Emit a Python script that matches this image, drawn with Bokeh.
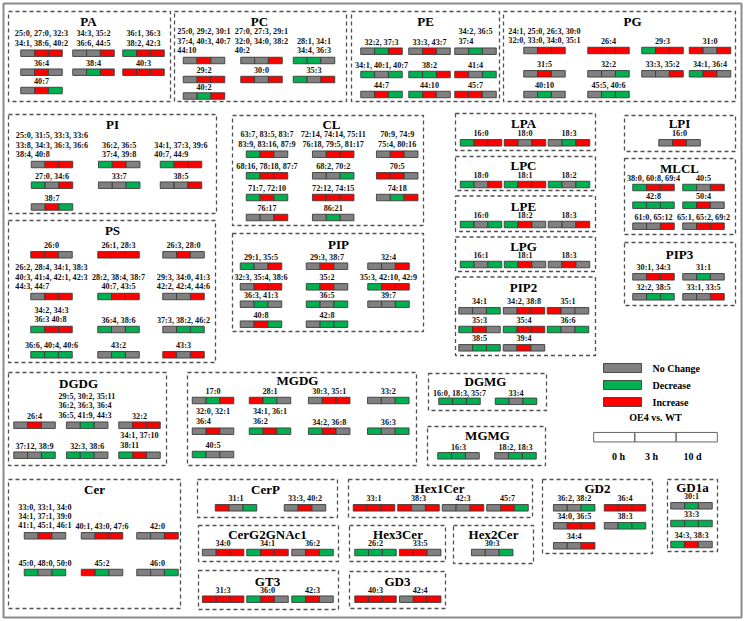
from bokeh.plotting import figure
from bokeh.models import Range1d, ColumnDataSource
from bokeh.core.properties import value
from bokeh.embed import file_html
from bokeh.resources import INLINE

# ---------------- data: lipid species and change at 0 h / 3 h / 10 d ----------------
# N = No Change, D = Decrease, I = Increase
PA_lipids = ["25:0, 27:0, 32:3\n34:1, 38:6, 40:2", "34:3, 35:2\n36:6, 44:5", "36:1, 36:3\n38:2, 42:3", "36:4", "38:4", "40:3", "40:7"]
PA_states = ["NII", "NNI", "DII", "NIN", "NDI", "III", "NID"]
PC_lipids = ["25:0, 29:2, 30:1\n37:4, 40:3, 40:7\n44:10", "27:0, 27:3, 29:1\n32:0, 34:0, 38:2\n40:2", "28:1, 34:1\n34:4, 36:3", "29:2", "30:0", "35:3", "40:2"]
PC_states = ["NIN", "NNI", "DDN", "NII", "INI", "DNI", "NDI"]
PE_lipids = ["32:2, 37:3", "33:3, 43:7", "34:2, 36:5\n37:4", "34:1, 40:1, 40:7", "38:2", "41:4", "44:7", "44:10", "45:7"]
PE_states = ["NDI", "NIN", "NDN", "DND", "DDI", "IND", "NID", "DIN", "IIN"]
PG_lipids = ["24:1, 25:0, 26:3, 30:0\n32:0, 33:0, 34:0, 35:1", "26:4", "29:3", "31:0", "31:5", "32:2", "33:3, 35:2", "34:1, 36:4", "40:10", "45:5, 40:6"]
PG_states = ["NII", "III", "DII", "INI", "NIN", "NND", "NNI", "DIN", "NDN", "NDD"]
PI_lipids = ["25:0, 31:5, 33:3, 33:6\n33:8, 34:3, 36:3, 36:6\n38:4, 40:8", "36:2, 36:5\n37:4, 39:8", "34:1, 37:3, 39:6\n40:7, 44:9", "27:0, 34:6", "33:7", "38:5", "38:7"]
PI_states = ["NII", "DIN", "DII", "DNI", "NND", "NNI", "NID"]
PS_lipids = ["26:0", "26:1, 28:3", "26:3, 28:0", "26:2, 28:4, 34:1, 38:3\n40:3, 41:4, 42:1, 42:3\n44:3, 44:7", "28:2, 38:4, 38:7\n40:7, 43:5", "29:3, 34:0, 41:3\n42:2, 42:4, 44:6", "34:2, 34:3\n36:3 40:8", "36:4, 38:6", "37:3, 38:2, 46:2", "36:6, 40:4, 40:6", "43:2", "43:3"]
PS_states = ["IIN", "III", "NIN", "NII", "DII", "NNI", "DII", "DND", "NDD", "DDD", "NDN", "INI"]
CL_lipids = ["63:7, 83:5, 83:7\n83:9, 83:16, 87:9", "72:14, 74:14, 75:11\n76:18, 79:5, 81:17", "70:9, 74:9\n75:4, 80:16", "68:16, 78:18, 87:7", "68:2, 70:2", "70:5", "71:7, 72:10", "72:12, 74:15", "74:18", "76:17", "86:21"]
CL_states = ["DIN", "NII", "NIN", "DII", "NND", "IIN", "DID", "III", "NDI", "NNI", "NDN"]
PIP_lipids = ["29:1, 35:5", "29:3, 38:7", "32:4", "32:3, 35:4, 38:6", "35:2", "35:3, 42:10, 42:9", "36:3, 41:3", "36:5", "39:7", "40:8", "42:8"]
PIP_states = ["DNI", "NIN", "NNI", "NII", "DIN", "DII", "NDN", "DND", "NND", "NID", "NDD"]
LPA_lipids = ["16:0", "18:0", "18:3"]
LPA_states = ["DII", "INI", "NDI"]
LPC_lipids = ["18:0", "18:1", "18:2"]
LPC_states = ["DNI", "DII", "DND"]
LPE_lipids = ["16:0", "18:2", "18:3"]
LPE_states = ["DND", "DIN", "NNI"]
LPG_lipids = ["16:1", "18:1", "18:3"]
LPG_states = ["DND", "DIN", "NIN"]
PIP2_lipids = ["34:1", "34:2, 38:8", "35:1", "35:3", "35:4", "36:6", "38:5", "39:4"]
PIP2_states = ["NND", "NII", "INN", "DIN", "DII", "DND", "NDD", "NIN"]
LPI_lipids = ["16:0"]
LPI_states = ["NIN"]
MLCL_lipids = ["38:0, 60:8, 69:4", "40:5", "42:8", "50:4", "61:0, 65:12", "65:1, 65:2, 69:2"]
MLCL_states = ["DII", "DNI", "DDD", "DIN", "NNI", "NII"]
PIP3_lipids = ["30:1, 34:3", "31:1", "32:2, 38:5", "33:1, 33:5"]
PIP3_states = ["NII", "NDN", "NDD", "NNI"]
DGDG_lipids = ["26:4", "29:5, 30:2, 35:11\n36:2, 36:3, 36:4\n36:5, 41:9, 44:3", "32:2", "37:12, 38:9", "32:3, 38:6", "34:1, 37:10\n38:11"]
DGDG_states = ["NIN", "NDN", "NII", "NND", "DDN", "DIN"]
MGDG_lipids = ["17:0", "28:1", "30:3, 35:1", "33:2", "32:0, 32:1\n36:4", "34:1, 36:1\n36:2", "34:2, 36:8", "36:3", "40:5"]
MGDG_states = ["NDI", "IDN", "NII", "NND", "NIN", "DID", "DIN", "DND", "DNN"]
DGMG_lipids = ["16:0, 18:3, 35:7", "33:4"]
DGMG_states = ["DDD", "DND"]
MGMG_lipids = ["16:3", "18:2, 18:3"]
MGMG_states = ["DDN", "NDD"]
Cer_lipids = ["33:0, 33:1, 34:0\n34:1, 37:1, 39:0\n41:1, 45:1, 46:1", "40:1, 43:0, 47:6", "42:0", "45:0, 48:0, 50:0", "45:2", "46:0"]
Cer_states = ["NIN", "NII", "NNI", "DND", "IDN", "NND"]
CerP_lipids = ["31:1", "33:3, 40:2"]
CerP_states = ["IND", "NIN"]
Hex1Cer_lipids = ["33:1", "38:3", "42:3", "45:7"]
Hex1Cer_states = ["III", "INI", "NNI", "NID"]
GD2_lipids = ["36:2, 38:2", "36:4", "34:0, 36:5", "38:3", "34:4"]
GD2_states = ["NND", "III", "NII", "NDD", "NNI"]
GD1a_lipids = ["30:1", "33:3", "34:3, 38:3"]
GD1a_states = ["NDN", "DDD", "DIN"]
CerG2GNAc1_lipids = ["34:0", "34:1", "36:2"]
CerG2GNAc1_states = ["NII", "DII", "NID"]
Hex3Cer_lipids = ["26:2", "33:5"]
Hex3Cer_states = ["DDD", "IIN"]
Hex2Cer_lipids = ["30:3"]
Hex2Cer_states = ["NND"]
GT3_lipids = ["31:3", "36:0", "42:3"]
GT3_states = ["III", "DIN", "DIN"]
GD3_lipids = ["40:3", "42:4"]
GD3_states = ["III", "NII"]

legend_labels = ["No Change", "Decrease", "Increase"]
legend_codes = ["N", "D", "I"]
time_labels = ["0 h", "3 h", "10 d"]
comparison = "OE4 vs. WT"

# ---------------- layout (page pixels) ----------------
L = {
    "PA": dict(box=(8, 11, 170, 101), title=(88, 21), cols=[41, 93, 143], rows=[52.7, 71.7, 90],
               cells=[(0, 0), (0, 1), (0, 2), (1, 0), (1, 1), (1, 2), (2, 0)]),
    "PC": dict(box=(174, 11, 346, 101), title=(259, 21), cols=[203.5, 261, 313.5], rows=[60, 79, 95.5],
               cells=[(0, 0), (0, 1), (0, 2), (1, 0), (1, 1), (1, 2), (2, 0)]),
    "PE": dict(box=(351, 11, 499, 101), title=(425, 21), cols=[381, 429, 475], rows=[50.7, 74, 94],
               cells=[(0, 0), (0, 1), (0, 2), (1, 0), (1, 1), (1, 2), (2, 0), (2, 1), (2, 2)]),
    "PG": dict(box=(503, 11, 735, 101), title=(632, 21), cols=[544, 608, 662, 709.5], rows=[50, 73.3, 94],
               cells=[(0, 0, "c"), (0, 1), (0, 2), (0, 3), (1, 0), (1, 1), (1, 2), (1, 3), (2, 0), (2, 1)]),
    "PI": dict(box=(8, 114, 216, 213), title=(112, 124), cols=[51.5, 118.7, 180.5], rows=[164, 184.7, 206.5],
               cells=[(0, 0), (0, 1), (0, 2), (1, 0), (1, 1), (1, 2), (2, 0)]),
    "PS": dict(box=(8, 220, 215, 362), title=(112, 230), cols=[51, 118, 183], rows=[254.3, 296, 329, 354.3],
               cells=[(0, 0), (0, 1), (0, 2), (1, 0), (1, 1, "c"), (1, 2), (2, 0), (2, 1), (2, 2), (3, 0), (3, 1), (3, 2)]),
    "CL": dict(box=(232, 115, 423, 225), title=(331, 124), cols=[266.5, 332.7, 396.7], rows=[153.7, 175.3, 197, 217],
               cells=[(0, 0, "c"), (0, 1, "c"), (0, 2, "c"), (1, 0), (1, 1), (1, 2), (2, 0), (2, 1), (2, 2), (3, 0), (3, 1)]),
    "PIP": dict(box=(232, 233, 423, 331), title=(338, 244), cols=[260.5, 326.5, 388], rows=[265.7, 286.3, 303.7, 323.7],
                cells=[(0, 0), (0, 1), (0, 2), (1, 0), (1, 1), (1, 2), (2, 0), (2, 1), (2, 2), (3, 0), (3, 1)]),
    "LPA": dict(box=(455, 113, 595, 150), title=(523, 123), cols=[480.5, 524.5, 568.5], rows=[142.3],
                cells=[(0, 0), (0, 1), (0, 2)]),
    "LPC": dict(box=(455, 156, 595, 190), title=(523, 164.5), cols=[480.5, 524.5, 568.5], rows=[184],
                cells=[(0, 0), (0, 1), (0, 2)]),
    "LPE": dict(box=(455, 195.5, 595, 231), title=(523, 206), cols=[480.5, 524.5, 568.5], rows=[224],
                cells=[(0, 0), (0, 1), (0, 2)]),
    "LPG": dict(box=(455, 236.5, 595, 271), title=(523, 246), cols=[480.5, 524.5, 568.5], rows=[264],
                cells=[(0, 0), (0, 1), (0, 2)]),
    "PIP2": dict(box=(455, 276.5, 595, 355), title=(523, 286.5), cols=[479, 523.5, 567.5], rows=[310.3, 329, 347.3],
                 cells=[(0, 0), (0, 1), (0, 2), (1, 0), (1, 1), (1, 2), (2, 0), (2, 1)]),
    "LPI": dict(box=(624, 115, 735, 151), title=(679, 123), cols=[679], rows=[142.3], cells=[(0, 0)]),
    "MLCL": dict(box=(624, 158, 735, 234), title=(679, 168), cols=[653, 703], rows=[187, 204.7, 225.7],
                 cells=[(0, 0), (0, 1), (1, 0), (1, 1), (2, 0), (2, 1)]),
    "PIP3": dict(box=(624, 242, 735, 305), title=(679, 254), cols=[653, 703], rows=[276.3, 296.3],
                 cells=[(0, 0), (0, 1), (1, 0), (1, 1)]),
    "DGDG": dict(box=(8, 372, 166, 465), title=(78, 382.5), cols=[34, 86.7, 139], rows=[424.7, 454.7],
                 cells=[(0, 0), (0, 1), (0, 2), (1, 0), (1, 1), (1, 2)]),
    "MGDG": dict(box=(187, 372, 416, 465), title=(297, 380), cols=[212.5, 269.5, 328.7, 387.8], rows=[400, 430.7, 454],
                 cells=[(0, 0), (0, 1), (0, 2), (0, 3), (1, 0), (1, 1), (1, 2), (1, 3), (2, 0)]),
    "DGMG": dict(box=(428, 373, 546, 410), title=(485, 381), cols=[459, 515.5], rows=[400.8], off=7.5,
                 cells=[(0, 0), (0, 1)]),
    "MGMG": dict(box=(427, 426, 545, 465), title=(487, 435), cols=[458, 515], rows=[455.3], off=8.3,
                 cells=[(0, 0), (0, 1)]),
    "Cer": dict(box=(8, 479, 180, 608), title=(94, 488.5), cols=[44.5, 101.5, 157], rows=[535.3, 572],
                cells=[(0, 0), (0, 1), (0, 2), (1, 0), (1, 1), (1, 2)]),
    "CerP": dict(box=(197, 479, 337, 517), title=(265, 488.5), cols=[235.5, 304.5], rows=[507.3], cells=[(0, 0), (0, 1)]),
    "Hex1Cer": dict(box=(348, 479, 532, 517), title=(439, 488), cols=[373.5, 418, 462.5, 507], rows=[507.3],
                    cells=[(0, 0), (0, 1), (0, 2), (0, 3)]),
    "GD2": dict(box=(542, 479, 652, 553), title=(597, 488), cols=[573.7, 624.5], rows=[507.3, 525.3, 545.3],
                cells=[(0, 0), (0, 1), (1, 0), (1, 1), (2, 0)]),
    "GD1a": dict(box=(667, 479, 717, 551), title=(692, 487), cols=[691], rows=[505.3, 523, 544],
                 cells=[(0, 0), (1, 0), (2, 0)]),
    "CerG2GNAc1": dict(box=(198, 525, 338, 561), title=(267, 533.5), cols=[222.6, 267, 312], rows=[552],
                       cells=[(0, 0), (0, 1), (0, 2)]),
    "Hex3Cer": dict(box=(349, 525, 445, 561), title=(397.5, 533.5), cols=[375, 419.7], rows=[552], cells=[(0, 0), (0, 1)]),
    "Hex2Cer": dict(box=(453, 525, 533, 563), title=(493, 533.5), cols=[491.7], rows=[552], cells=[(0, 0)]),
    "GT3": dict(box=(198, 570, 338, 609), title=(267, 580.5), cols=[222.6, 267, 312], rows=[598.7],
                cells=[(0, 0), (0, 1), (0, 2)]),
    "GD3": dict(box=(349, 571, 445, 608), title=(397, 580.5), cols=[375, 419.7], rows=[598.7], cells=[(0, 0), (0, 1)]),
}

GROUPS = {
    "PA": (PA_lipids, PA_states), "PC": (PC_lipids, PC_states), "PE": (PE_lipids, PE_states),
    "PG": (PG_lipids, PG_states), "PI": (PI_lipids, PI_states), "PS": (PS_lipids, PS_states),
    "CL": (CL_lipids, CL_states), "PIP": (PIP_lipids, PIP_states), "LPA": (LPA_lipids, LPA_states),
    "LPC": (LPC_lipids, LPC_states), "LPE": (LPE_lipids, LPE_states), "LPG": (LPG_lipids, LPG_states),
    "PIP2": (PIP2_lipids, PIP2_states), "LPI": (LPI_lipids, LPI_states), "MLCL": (MLCL_lipids, MLCL_states),
    "PIP3": (PIP3_lipids, PIP3_states), "DGDG": (DGDG_lipids, DGDG_states), "MGDG": (MGDG_lipids, MGDG_states),
    "DGMG": (DGMG_lipids, DGMG_states), "MGMG": (MGMG_lipids, MGMG_states), "Cer": (Cer_lipids, Cer_states),
    "CerP": (CerP_lipids, CerP_states), "Hex1Cer": (Hex1Cer_lipids, Hex1Cer_states), "GD2": (GD2_lipids, GD2_states),
    "GD1a": (GD1a_lipids, GD1a_states), "CerG2GNAc1": (CerG2GNAc1_lipids, CerG2GNAc1_states),
    "Hex3Cer": (Hex3Cer_lipids, Hex3Cer_states), "Hex2Cer": (Hex2Cer_lipids, Hex2Cer_states),
    "GT3": (GT3_lipids, GT3_states), "GD3": (GD3_lipids, GD3_states),
}

COLORS = {"N": "#808080", "D": "#00b050", "I": "#ff0000"}
FONT = value("Liberation Serif")
LABEL_PX = 8.2
BAR_W = 41.5
BAR_H = 6.5
LINE_GAP = 9.3
OFF_SINGLE = 9.0
OFF_MULTI = 10.0


def text_width(s, px):
    w = 0.0
    for ch in s:
        if ch.isdigit():
            w += 0.5
        elif ch == ":":
            w += 0.333
        else:
            w += 0.25
    return w * px


seg = BAR_W / 3.0
bars = dict(x=[], y=[], color=[])
lab_c = dict(x=[], y=[], t=[])
lab_l = dict(x=[], y=[], t=[])
boxes = dict(left=[], right=[], top=[], bottom=[])
titles = dict(x=[], y=[], t=[])

for name, (lipids, states) in GROUPS.items():
    lay = L[name]
    x0, y0, x1, y1 = lay["box"]
    boxes["left"].append(x0); boxes["right"].append(x1)
    boxes["top"].append(y0); boxes["bottom"].append(y1)
    titles["x"].append(lay["title"][0]); titles["y"].append(lay["title"][1]); titles["t"].append(name)
    for lab, st, cell in zip(lipids, states, lay["cells"]):
        cx = lay["cols"][cell[1]]
        cy = lay["rows"][cell[0]]
        for k, s in enumerate(st):
            bars["x"].append(cx + (k - 1) * seg)
            bars["y"].append(cy)
            bars["color"].append(COLORS[s])
        lines = lab.split("\n")
        n = len(lines)
        off = lay.get("off", OFF_SINGLE if n == 1 else OFF_MULTI)
        centered = (n == 1) or (len(cell) > 2 and cell[2] == "c")
        if centered:
            for i, ln in enumerate(lines):
                lab_c["x"].append(cx)
                lab_c["y"].append(cy - off - (n - 1 - i) * LINE_GAP)
                lab_c["t"].append(ln)
        else:
            wmax = max(text_width(ln, LABEL_PX) for ln in lines)
            lx = cx - wmax / 2.0
            for i, ln in enumerate(lines):
                lab_l["x"].append(lx)
                lab_l["y"].append(cy - off - (n - 1 - i) * LINE_GAP)
                lab_l["t"].append(ln)

p = figure(width=744, height=621, x_range=Range1d(0, 744), y_range=Range1d(621, 0),
           output_backend="svg", toolbar_location=None, x_axis_type=None, y_axis_type=None,
           min_border=0, background_fill_color="white", border_fill_color="white")
p.grid.visible = False
p.outline_line_color = None

# outer frame
p.quad(left=[3], right=[741], top=[3], bottom=[617], fill_color=None, line_color="#8a8a8a", line_width=2)

p.quad(source=ColumnDataSource(boxes), left="left", right="right", top="top", bottom="bottom",
       fill_color=None, line_color="#505050", line_dash="4 3", line_width=1.3)

p.rect(source=ColumnDataSource(bars), x="x", y="y", width=seg, height=BAR_H,
       fill_color="color", line_color="#3c3c3c", line_width=0.9)

p.text(source=ColumnDataSource(titles), x="x", y="y", text="t", text_font=FONT, text_font_style="bold",
       text_font_size="13px", text_align="center", text_baseline="middle", text_color="black")
p.text(source=ColumnDataSource(lab_c), x="x", y="y", text="t", text_font=FONT, text_font_style="bold",
       text_font_size=f"{LABEL_PX}px", text_align="center", text_baseline="middle", text_color="#111111")
p.text(source=ColumnDataSource(lab_l), x="x", y="y", text="t", text_font=FONT, text_font_style="bold",
       text_font_size=f"{LABEL_PX}px", text_align="left", text_baseline="middle", text_color="#111111")

# legend
leg_y = [367.5, 384.5, 401.5]
p.rect(x=[622] * 3, y=leg_y, width=38, height=9, fill_color=[COLORS[c] for c in legend_codes],
       line_color="#3c3c3c", line_width=0.9)
p.text(x=[652] * 3, y=leg_y, text=legend_labels, text_font=FONT, text_font_style="bold",
       text_font_size="10px", text_align="left", text_baseline="middle", text_color="black")
p.text(x=[655], y=[417], text=[comparison], text_font=FONT, text_font_style="bold",
       text_font_size="10px", text_align="center", text_baseline="middle", text_color="black")
seg_t = 41.0
p.rect(x=[613.7, 655, 696.3], y=[436.7] * 3, width=seg_t, height=9.5, fill_color="white",
       line_color="#555555", line_width=0.9)
p.text(x=[618, 651, 692], y=[455.5] * 3, text=time_labels, text_font=FONT, text_font_style="bold",
       text_font_size="10px", text_align="center", text_baseline="middle", text_color="black")

open("out.html", "w").write(file_html(p, INLINE))
